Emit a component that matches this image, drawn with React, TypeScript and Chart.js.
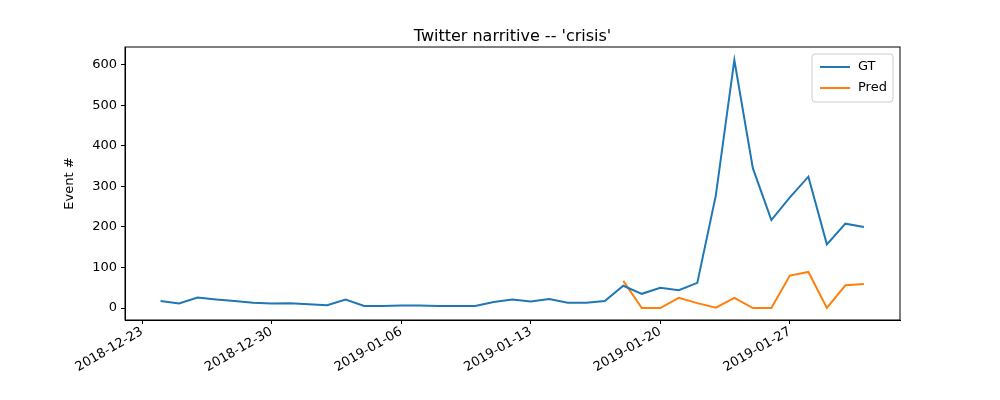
import React, { useEffect, useRef } from 'react';
import { Chart, registerables } from 'chart.js';

Chart.register(...registerables);

// day offsets from 2018-12-23
const gtDays = Array.from({ length: 39 }, (_, i) => i + 1);
const gtValues = [17, 11, 26, 21, 17, 13, 11, 12, 9, 7, 21, 5, 5, 6, 6, 5, 5, 5, 15, 21, 16, 22, 13, 13, 17, 55, 35, 50, 44, 62, 278, 612, 345, 217, 273, 324, 157, 208, 200];
const predDays = Array.from({ length: 14 }, (_, i) => i + 26);
const predValues = [67, 0, 0, 25, 12, 1, 25, 0, 0, 80, 89, 0, 56, 59];
const tickDays = [0, 7, 14, 21, 28, 35];
const tickLabels = ['2018-12-23', '2018-12-30', '2019-01-06', '2019-01-13', '2019-01-20', '2019-01-27'];
const yTicks = [0, 100, 200, 300, 400, 500, 600];

const FONT = 'DejaVu Sans';

const framePlugin = {
  id: 'frame',
  afterDraw(chart: any) {
    const { ctx, chartArea: a } = chart;
    ctx.save();
    ctx.strokeStyle = '#000';
    ctx.lineWidth = 1;
    ctx.strokeRect(a.left, a.top, a.right - a.left, a.bottom - a.top);
    // title
    ctx.fillStyle = '#000';
    ctx.font = `16px "${FONT}"`;
    ctx.textAlign = 'center';
    ctx.textBaseline = 'alphabetic';
    ctx.fillText("Twitter narritive -- 'crisis'", (a.left + a.right) / 2, 41);
    // legend
    const lx = 812, ly = 54, lw = 81, lh = 48;
    ctx.fillStyle = 'rgba(255,255,255,0.8)';
    ctx.strokeStyle = '#ccc';
    ctx.beginPath();
    ctx.roundRect(lx, ly, lw, lh, 3);
    ctx.fill();
    ctx.stroke();
    const items = [['GT', '#1f77b4'], ['Pred', '#ff7f0e']];
    ctx.font = `13px "${FONT}"`;
    ctx.textAlign = 'left';
    ctx.textBaseline = 'middle';
    items.forEach(([t, c], i) => {
      const y = ly + 13 + i * 21;
      ctx.strokeStyle = c;
      ctx.lineWidth = 2;
      ctx.beginPath();
      ctx.moveTo(lx + 8, y);
      ctx.lineTo(lx + 38, y);
      ctx.stroke();
      ctx.fillStyle = '#000';
      ctx.fillText(t, lx + 46, y);
    });
    ctx.restore();
  },
};

const axisGrid = { drawOnChartArea: false, color: '#000', tickLength: 4, tickColor: '#000' };

export default function App() {
  const ref = useRef<HTMLCanvasElement>(null);
  useEffect(() => {
    if (!ref.current) return;
    const chart = new Chart(ref.current, {
      type: 'line',
      data: {
        datasets: [
          { label: 'GT', data: gtDays.map((d, i) => ({ x: d, y: gtValues[i] })), borderColor: '#1f77b4', borderWidth: 2, pointRadius: 0, tension: 0 },
          { label: 'Pred', data: predDays.map((d, i) => ({ x: d, y: predValues[i] })), borderColor: '#ff7f0e', borderWidth: 2, pointRadius: 0, tension: 0 },
        ],
      },
      options: {
        animation: false,
        responsive: false,
        layout: { padding: { top: 47, right: 100, left: 62, bottom: 0 } },
        plugins: { legend: { display: false }, tooltip: { enabled: false } },
        scales: {
          x: {
            type: 'linear',
            min: -0.92,
            max: 40.95,
            grid: axisGrid,
            border: { color: '#000' },
            afterBuildTicks: (s: any) => { s.ticks = tickDays.map((v) => ({ value: v })); },
            afterFit: (s: any) => { s.height = 80; },
            ticks: {
              color: '#000',
              font: { family: FONT, size: 13 },
              minRotation: 30,
              maxRotation: 30,
              padding: 0,
              callback: (v: any) => tickLabels[tickDays.indexOf(Number(v))] ?? '',
            },
          },
          y: {
            min: -29.6,
            max: 644,
            grid: axisGrid,
            border: { color: '#000' },
            afterBuildTicks: (s: any) => { s.ticks = yTicks.map((v) => ({ value: v })); },
            afterFit: (s: any) => { s.width = 63; },
            title: { display: true, text: 'Event #', color: '#000', font: { family: FONT, size: 13 }, padding: 0 },
            ticks: { color: '#000', font: { family: FONT, size: 13 }, padding: 4 },
          },
        },
      },
      plugins: [framePlugin],
    });
    return () => chart.destroy();
  }, []);
  return (
    <div style={{ position: 'fixed', left: 0, top: 0, width: 1000, height: 400, background: '#fff' }}>
      <canvas ref={ref} width={1000} height={400} />
    </div>
  );
}
